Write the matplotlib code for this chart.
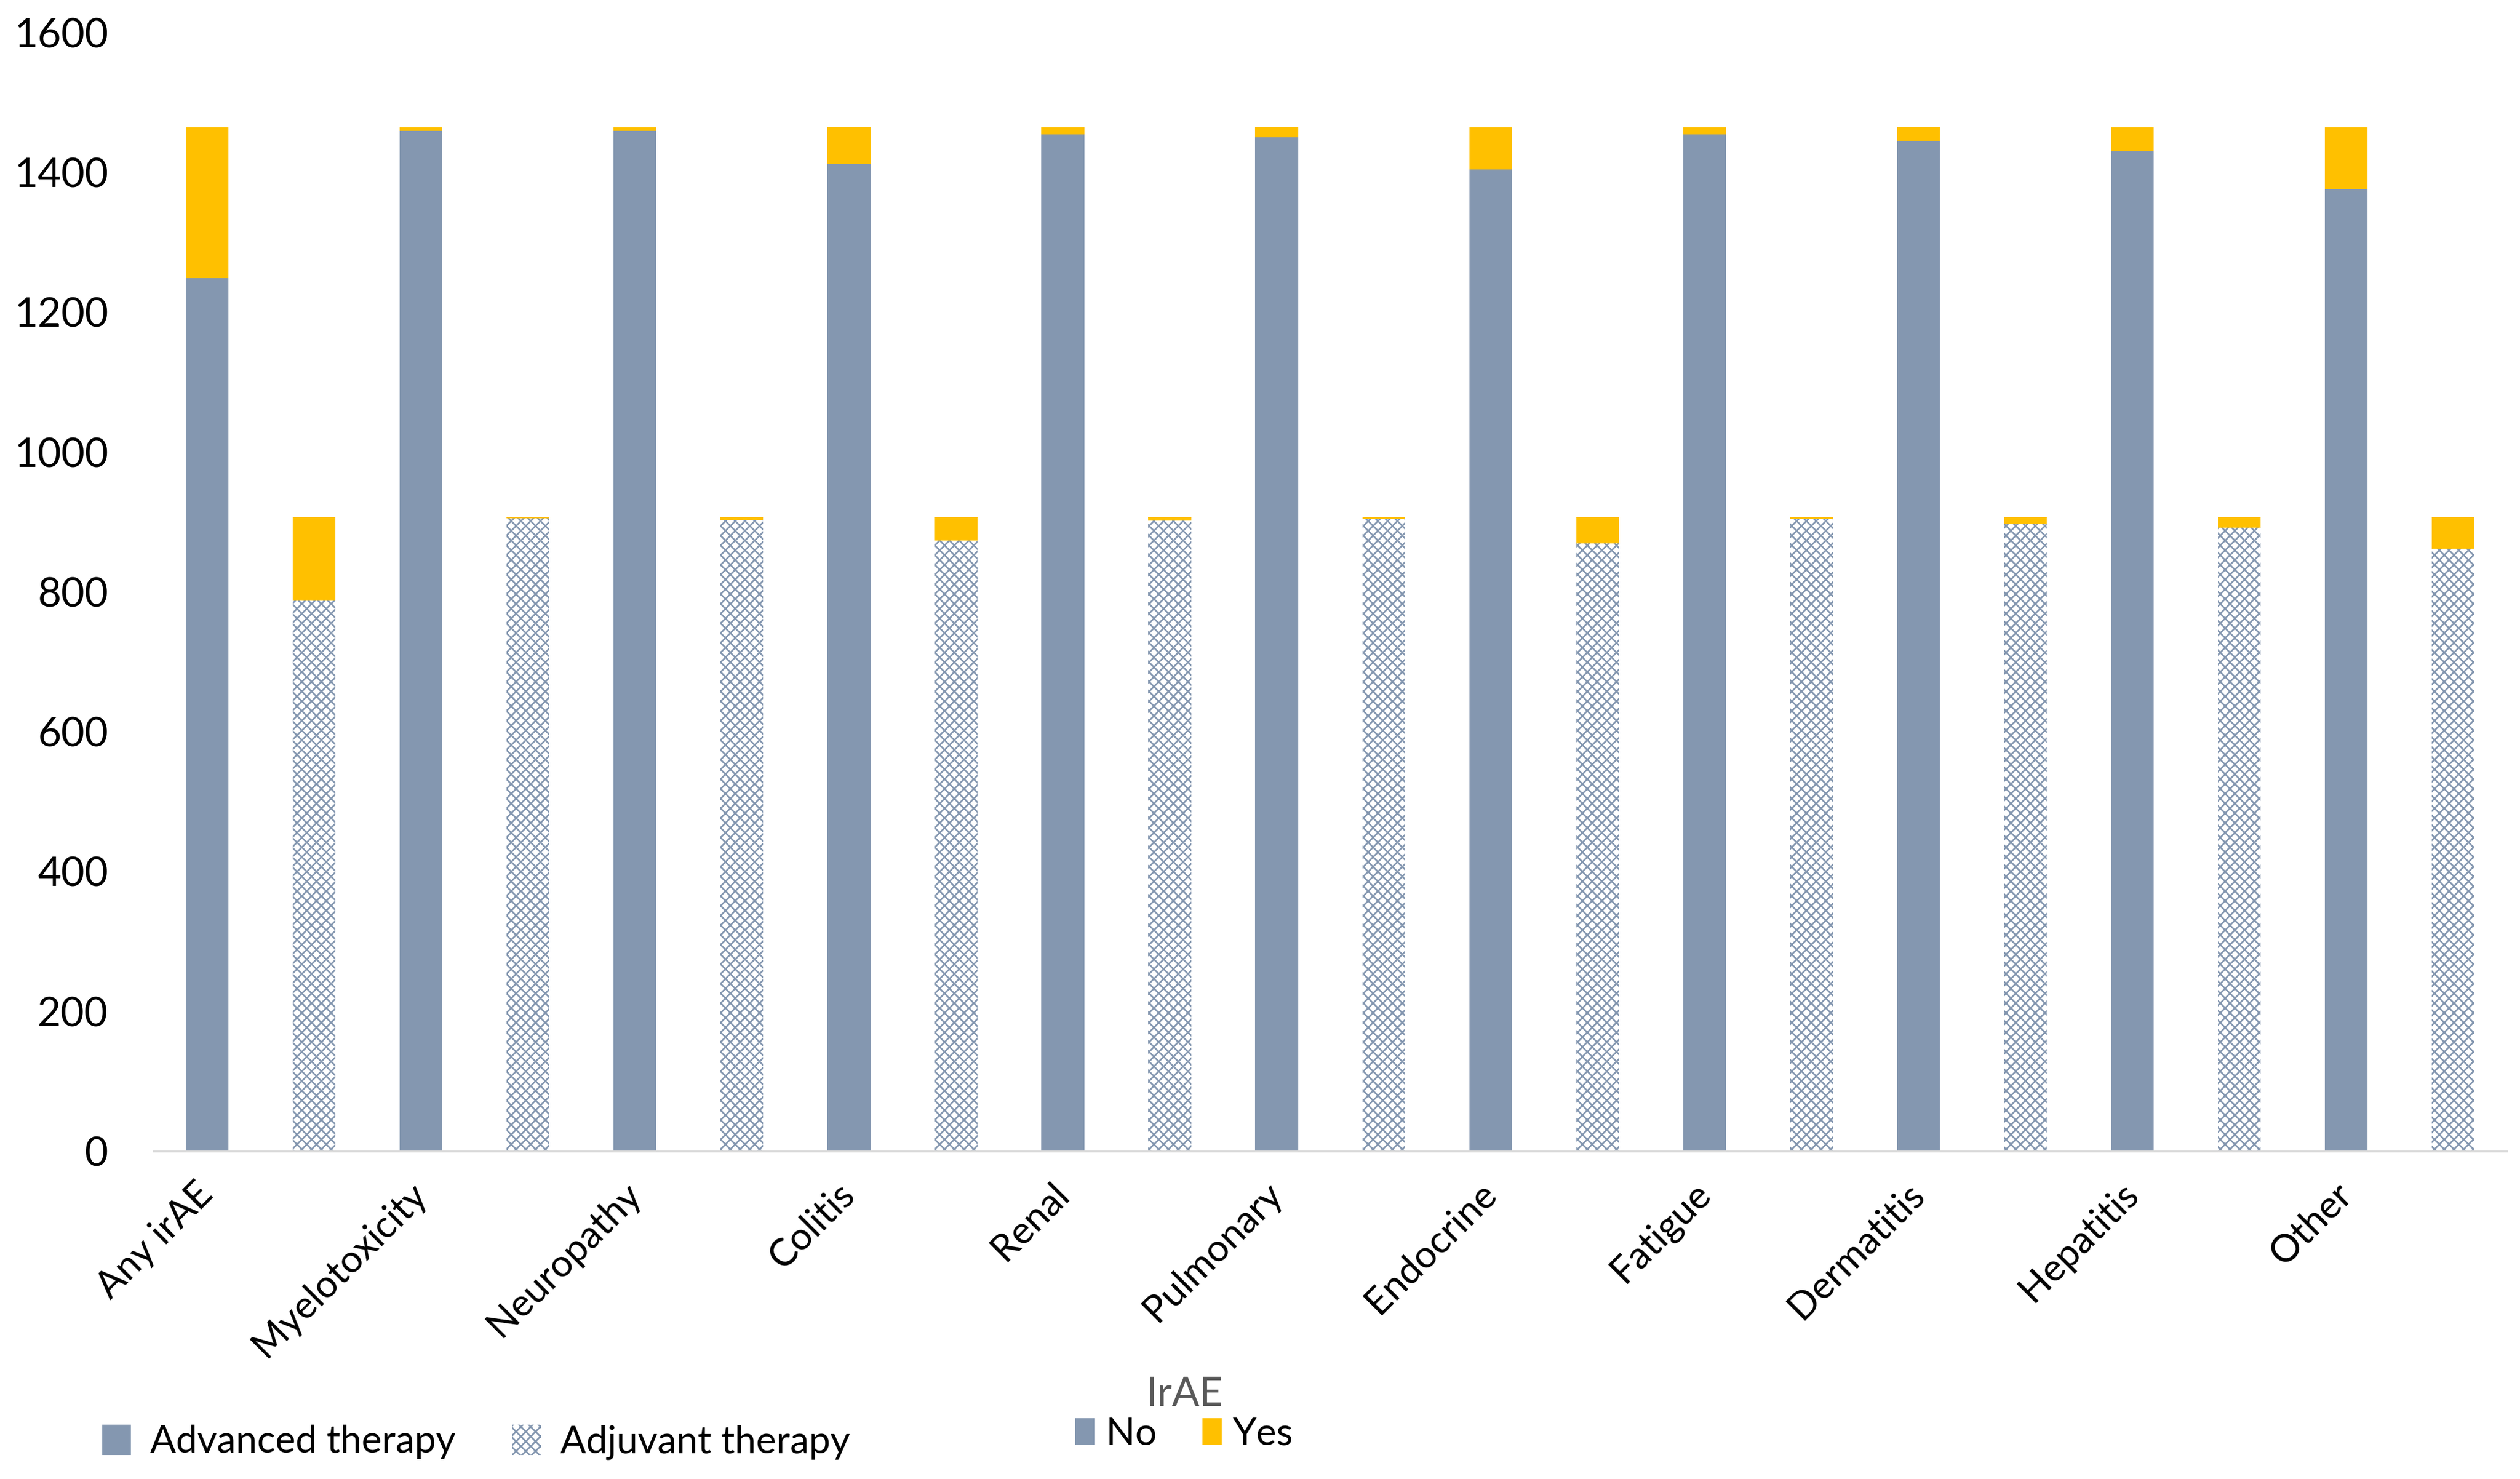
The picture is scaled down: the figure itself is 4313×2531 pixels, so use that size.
import matplotlib
matplotlib.use("Agg")
import matplotlib.pyplot as plt
from matplotlib.patches import Patch
import numpy as np

categories = ["Any irAE", "Myelotoxicity", "Neuropathy", "Colitis", "Renal", "Pulmonary",
              "Endocrine", "Fatigue", "Dermatitis", "Hepatitis", "Other"]
adv_no = [1249, 1459, 1459, 1412, 1454, 1450, 1404, 1454, 1445, 1430, 1376]
adv_yes = [215, 5, 5, 53, 10, 15, 60, 10, 20, 34, 88]
adj_no = [787, 905, 903, 873, 902, 904, 869, 904, 897, 892, 862]
adj_yes = [120, 2, 4, 34, 5, 3, 38, 3, 10, 15, 45]
yticks = [0, 200, 400, 600, 800, 1000, 1200, 1400, 1600]

BLUE = "#8497b0"
GOLD = "#ffc000"

plt.rcParams['font.family'] = ['Lato', 'DejaVu Sans']
plt.rcParams['hatch.color'] = BLUE
plt.rcParams['hatch.linewidth'] = 2.0

fig = plt.figure(figsize=(43.13, 25.31), dpi=100)
ax = fig.add_axes([0.061, 0.2217, 0.9337, 0.7563])

n = len(categories)
x_adv = np.arange(n) * 2
x_adj = np.arange(n) * 2 + 1
w = 0.40

ax.bar(x_adv, adv_no, width=w, color=BLUE, linewidth=0)
ax.bar(x_adv, adv_yes, width=w, bottom=adv_no, color=GOLD, linewidth=0)
ax.bar(x_adj, adj_no, width=w, facecolor="white", edgecolor=BLUE, hatch="xx", linewidth=0)
ax.bar(x_adj, adj_yes, width=w, bottom=adj_no, color=GOLD, linewidth=0)

ax.set_xlim(-0.5, 2 * n - 0.5)
ax.set_ylim(0, 1600)
ax.set_yticks(yticks)
ax.set_yticklabels([str(t) for t in yticks], fontsize=50)
ax.set_xticks(x_adv)
ax.set_xticklabels(categories, fontsize=47, rotation=45, ha='right', va='center',
                   rotation_mode='anchor')
ax.tick_params(axis='both', length=0)
ax.tick_params(axis='x', pad=46)
ax.tick_params(axis='y', pad=56)

for s in ['top', 'right', 'left']:
    ax.spines[s].set_visible(False)
ax.spines['bottom'].set_color('#d9d9d9')
ax.spines['bottom'].set_linewidth(2.5)

h1 = [Patch(facecolor=BLUE, edgecolor='none', label='Advanced therapy'),
      Patch(facecolor='white', edgecolor=BLUE, hatch='xx', linewidth=0, label='Adjuvant therapy')]
leg1 = fig.legend(handles=h1, loc='center left', bbox_to_anchor=(0.027, 0.025), ncol=2,
                  frameon=False, fontsize=47, handlelength=0.75, handleheight=0.85,
                  handletextpad=0.5, columnspacing=1.5)

h2 = [Patch(facecolor=BLUE, edgecolor='none', label='No'),
      Patch(facecolor=GOLD, edgecolor='none', label='Yes')]
leg2 = fig.legend(handles=h2, loc='center', bbox_to_anchor=(0.47, 0.044), ncol=2,
                  frameon=False, fontsize=47, handlelength=0.5, handleheight=0.7,
                  handletextpad=0.3, columnspacing=1.2, title='IrAE',
                  title_fontproperties={'size': 50, 'family': ['Lato', 'DejaVu Sans']},
                  borderpad=0.1, labelspacing=0.1)
leg2.get_title().set_color('#595959')

fig.savefig("out.png", dpi=100, facecolor='white')
